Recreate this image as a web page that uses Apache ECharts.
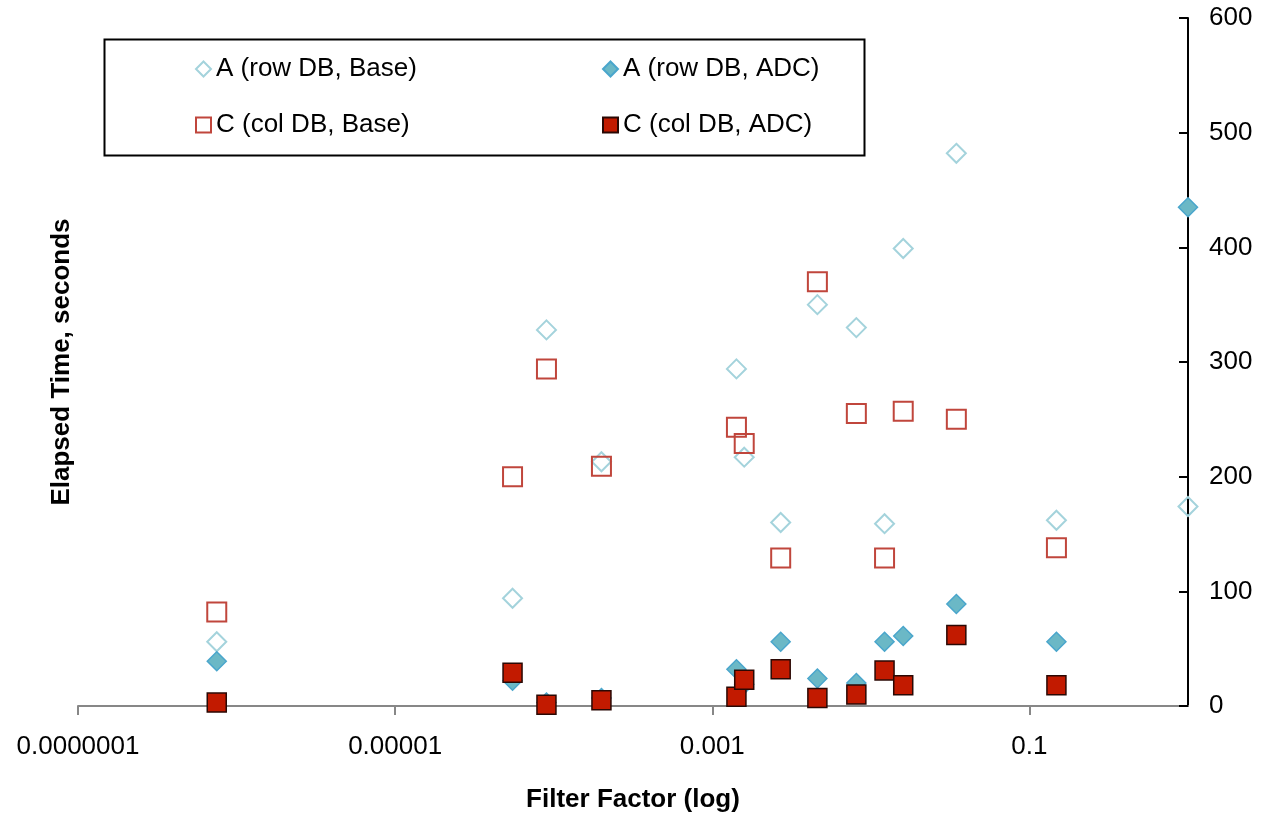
<!DOCTYPE html>
<html><head><meta charset="utf-8">
<script src="https://cdn.jsdelivr.net/npm/echarts@6/dist/echarts.min.js"></script>
<style>html,body{margin:0;padding:0;background:#fff}#c{width:1263px;height:815px}</style>
</head><body><div id="c"></div>
<script>
// Tick values and labels
const xTickValues = [1e-7, 1e-5, 1e-3, 1e-1];
const xTickLabels = ['0.0000001', '0.00001', '0.001', '0.1'];
const yMin = 0, yMax = 600, yStep = 100;

// Series names
const seriesNames = ['A (row DB, Base)', 'A (row DB, ADC)', 'C (col DB, Base)', 'C (col DB, ADC)'];

// Filter factors (x) for system A and C
const aX = [7.5e-7, 5.5e-5, 9.0e-5, 2.0e-4, 1.42e-3, 1.59e-3, 2.7e-3, 4.6e-3, 8.1e-3, 0.0122, 0.016, 0.0346, 0.148, 1.0];
const cX = [7.5e-7, 5.5e-5, 9.0e-5, 2.0e-4, 1.42e-3, 1.59e-3, 2.7e-3, 4.6e-3, 8.1e-3, 0.0122, 0.016, 0.0346, 0.148];

// Elapsed times (seconds)
const aBase = [56, 94, 328, 213, 294, 217, 160, 350, 330, 159, 399, 482, 162, 174];
const aAdc  = [39, 22, 3, 7, 32, 19, 56, 24, 20, 56, 61, 89, 56, 435];
const cBase = [82, 200, 294, 209, 243, 229, 129, 370, 255, 129, 257, 250, 138];
const cAdc  = [3, 29, 1, 5, 8, 23, 32, 7, 10, 31, 18, 62, 18];

const FONT = 'Liberation Sans, Arial, sans-serif';
const pairs = (xs, ys) => xs.map((x, i) => [x, ys[i]]);

function xLabel(v) {
  const i = xTickValues.findIndex(t => Math.abs(Math.log10(t) - Math.log10(v)) < 0.01);
  return i >= 0 ? xTickLabels[i] : '';
}

const chart = echarts.init(document.getElementById('c'), null, {renderer: 'canvas'});

const legendPos = [[195, 56], [602, 56], [195, 112], [602, 112]];

chart.setOption({
  backgroundColor: '#fff',
  animation: false,
  grid: {left: 78, right: 75, top: 18, bottom: 109, containLabel: false, outerBoundsMode: 'none'},
  legend: seriesNames.map((n, i) => ({
    data: [n], left: legendPos[i][0], top: legendPos[i][1], padding: 0, itemGap: 0,
    itemWidth: 15, itemHeight: 15, selectedMode: false,
    textStyle: {fontFamily: FONT, fontSize: 26, lineHeight: 26, color: '#000', padding: [0, 0, 0, 0]}
  })),
  graphic: [{
    type: 'rect', left: 102, top: 37, z: -1,
    shape: {width: 760, height: 116},
    style: {fill: 'none', stroke: '#000', lineWidth: 2}
  }],
  xAxis: {
    type: 'log', logBase: 10, min: 1e-7, max: 1,
    axisLine: {lineStyle: {color: '#878787', width: 2}},
    axisTick: {show: true, customValues: xTickValues, length: 9, lineStyle: {color: '#878787', width: 2}},
    axisLabel: {customValues: xTickValues, formatter: xLabel, fontFamily: FONT, fontSize: 26, color: '#000', margin: 28},
    splitLine: {show: false},
    minorTick: {show: false},
    name: 'Filter Factor (log)', nameLocation: 'middle', nameGap: 81,
    nameTextStyle: {fontFamily: FONT, fontSize: 26, fontWeight: 'bold', color: '#000'}
  },
  yAxis: [{
    type: 'value', position: 'right', min: yMin, max: yMax, interval: yStep,
    axisLine: {show: true, lineStyle: {color: '#000', width: 2}},
    axisTick: {show: true, inside: true, length: 9, lineStyle: {color: '#000', width: 2}},
    axisLabel: {fontFamily: FONT, fontSize: 26, color: '#000', margin: 21},
    splitLine: {show: false}
  }, {
    type: 'value', position: 'left', min: yMin, max: yMax, interval: yStep,
    axisLine: {show: false}, axisTick: {show: false}, axisLabel: {show: false}, splitLine: {show: false},
    name: 'Elapsed Time, seconds', nameLocation: 'middle', nameGap: 3,
    nameTextStyle: {fontFamily: FONT, fontSize: 26, fontWeight: 'bold', color: '#000'}
  }],
  series: [
    {name: seriesNames[0], type: 'scatter', clip: false, symbol: 'diamond', symbolSize: 19,
     itemStyle: {color: 'transparent', borderColor: '#a4d3dc', borderWidth: 2, opacity: 1}, data: pairs(aX, aBase)},
    {name: seriesNames[1], type: 'scatter', clip: false, symbol: 'diamond', symbolSize: 19,
     itemStyle: {color: '#6bb8c6', borderColor: '#4aa6cc', borderWidth: 1.5, opacity: 1}, data: pairs(aX, aAdc)},
    {name: seriesNames[2], type: 'scatter', clip: false, symbol: 'rect', symbolSize: 19,
     itemStyle: {color: 'transparent', borderColor: '#c0463c', borderWidth: 2, opacity: 1}, data: pairs(cX, cBase)},
    {name: seriesNames[3], type: 'scatter', clip: false, symbol: 'rect', symbolSize: 19,
     itemStyle: {color: '#c21a00', borderColor: '#2a0804', borderWidth: 1.5, opacity: 1}, data: pairs(cX, cAdc)}
  ]
});
</script></body></html>
